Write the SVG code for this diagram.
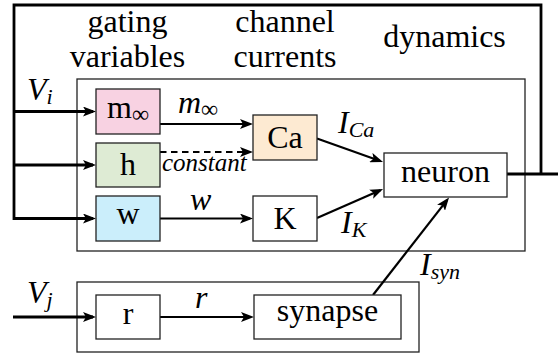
<svg xmlns="http://www.w3.org/2000/svg" width="558" height="356" viewBox="0 0 558 356">
<defs>
<style>
text{font-family:"Liberation Serif","Times New Roman",serif;fill:#000}
.t{font-size:32px;text-anchor:middle}
.mi{font-size:32px;font-style:italic}
.sub{font-size:22px}
.inf{font-size:24px;font-style:normal}
.box{stroke:#222;stroke-width:1.3}
.frame{fill:none;stroke:#222;stroke-width:1.3}
.thick{fill:none;stroke:#000;stroke-width:2.8;stroke-linejoin:miter}
.arr{fill:none;stroke:#000;stroke-width:2.2;marker-end:url(#ah)}
.dash{stroke-dasharray:6.5 4.5}
</style>
<marker id="ah" markerUnits="userSpaceOnUse" markerWidth="14" markerHeight="10" refX="10" refY="5" orient="auto" viewBox="0 0 14 10">
<path d="M0,0 L13,5 L0,10 L3,5 z" fill="#000"/>
</marker>
</defs>
<rect width="558" height="356" fill="#fff"/>

<g id="headers">
<text class="t" x="127.5" y="32">gating</text>
<text class="t" x="127.5" y="67">variables</text>
<text class="t" x="285" y="32">channel</text>
<text class="t" x="285" y="67">currents</text>
<text class="t" x="444.5" y="47">dynamics</text>
</g>

<g id="neuron-module"><rect class="frame" x="77" y="79" width="448" height="172"/></g>
<g id="synapse-module"><rect class="frame" x="77" y="282" width="342" height="70"/></g>

<g id="connectors">
<path class="thick" d="M507,174 H558"/>
<path class="thick arr" style="stroke-width:2.8" d="M541,174 V5 H14 V218.5 H93"/>
<path class="thick arr" style="stroke-width:2.8" d="M14,111.5 H93"/>
<path class="thick arr" style="stroke-width:2.8" d="M14,165 H93"/>
<path class="thick arr" style="stroke-width:2.8" d="M13,317 H93"/>
<path class="arr" d="M160,124 H250"/>
<path class="arr dash" d="M160,152 H250"/>
<path class="arr" d="M160,218.5 H250"/>
<path class="arr" d="M160,317 H251"/>
<path class="arr" d="M317,138.5 L380.2,161"/>
<path class="arr" d="M317,218 L380.3,190.2"/>
<path class="arr" d="M373,295 L447.2,199.9"/>
</g>

<g id="node-minf"><rect class="box" x="96" y="89" width="64" height="45" fill="#F8D2E2"/><text class="t" x="128" y="118">m<tspan class="inf" dy="4">∞</tspan></text></g>
<g id="node-h"><rect class="box" x="96" y="143" width="64" height="44" fill="#DEEBD4"/><text class="t" x="128" y="175">h</text></g>
<g id="node-w"><rect class="box" x="96" y="196" width="64" height="45" fill="#CBEEFB"/><text class="t" x="128" y="224">w</text></g>
<g id="node-ca"><rect class="box" x="253" y="115" width="64" height="45" fill="#FDEAD2"/><text class="t" x="285" y="148">Ca</text></g>
<g id="node-k"><rect class="box" x="253" y="196" width="64" height="45" fill="#fff"/><text class="t" x="285" y="229">K</text></g>
<g id="node-neuron"><rect class="box" x="384" y="153" width="123" height="44" fill="#fff"/><text class="t" x="445.5" y="182">neuron</text></g>
<g id="node-r"><rect class="box" x="96" y="295" width="64" height="44" fill="#fff"/><text class="t" x="128" y="324">r</text></g>
<g id="node-synapse"><rect class="box" x="254" y="295" width="147" height="44" fill="#fff"/><text class="t" x="327.5" y="321">synapse</text></g>

<g id="labels">
<text class="mi" x="27" y="100">V<tspan class="sub" dy="4">i</tspan></text>
<text class="mi" x="27" y="303">V<tspan class="sub" dy="4">j</tspan></text>
<text class="mi" x="178" y="113">m<tspan class="inf" dy="4">∞</tspan></text>
<text class="mi" x="162" y="170.5" style="font-size:25px">constant</text>
<text class="mi" x="190" y="210">w</text>
<text class="mi" x="195" y="308">r</text>
<text class="mi" x="338" y="133">I<tspan class="sub" dy="4">Ca</tspan></text>
<text class="mi" x="341" y="233">I<tspan class="sub" dy="4">K</tspan></text>
<text class="mi" x="420" y="275">I<tspan class="sub" dy="4">syn</tspan></text>
</g>
</svg>
